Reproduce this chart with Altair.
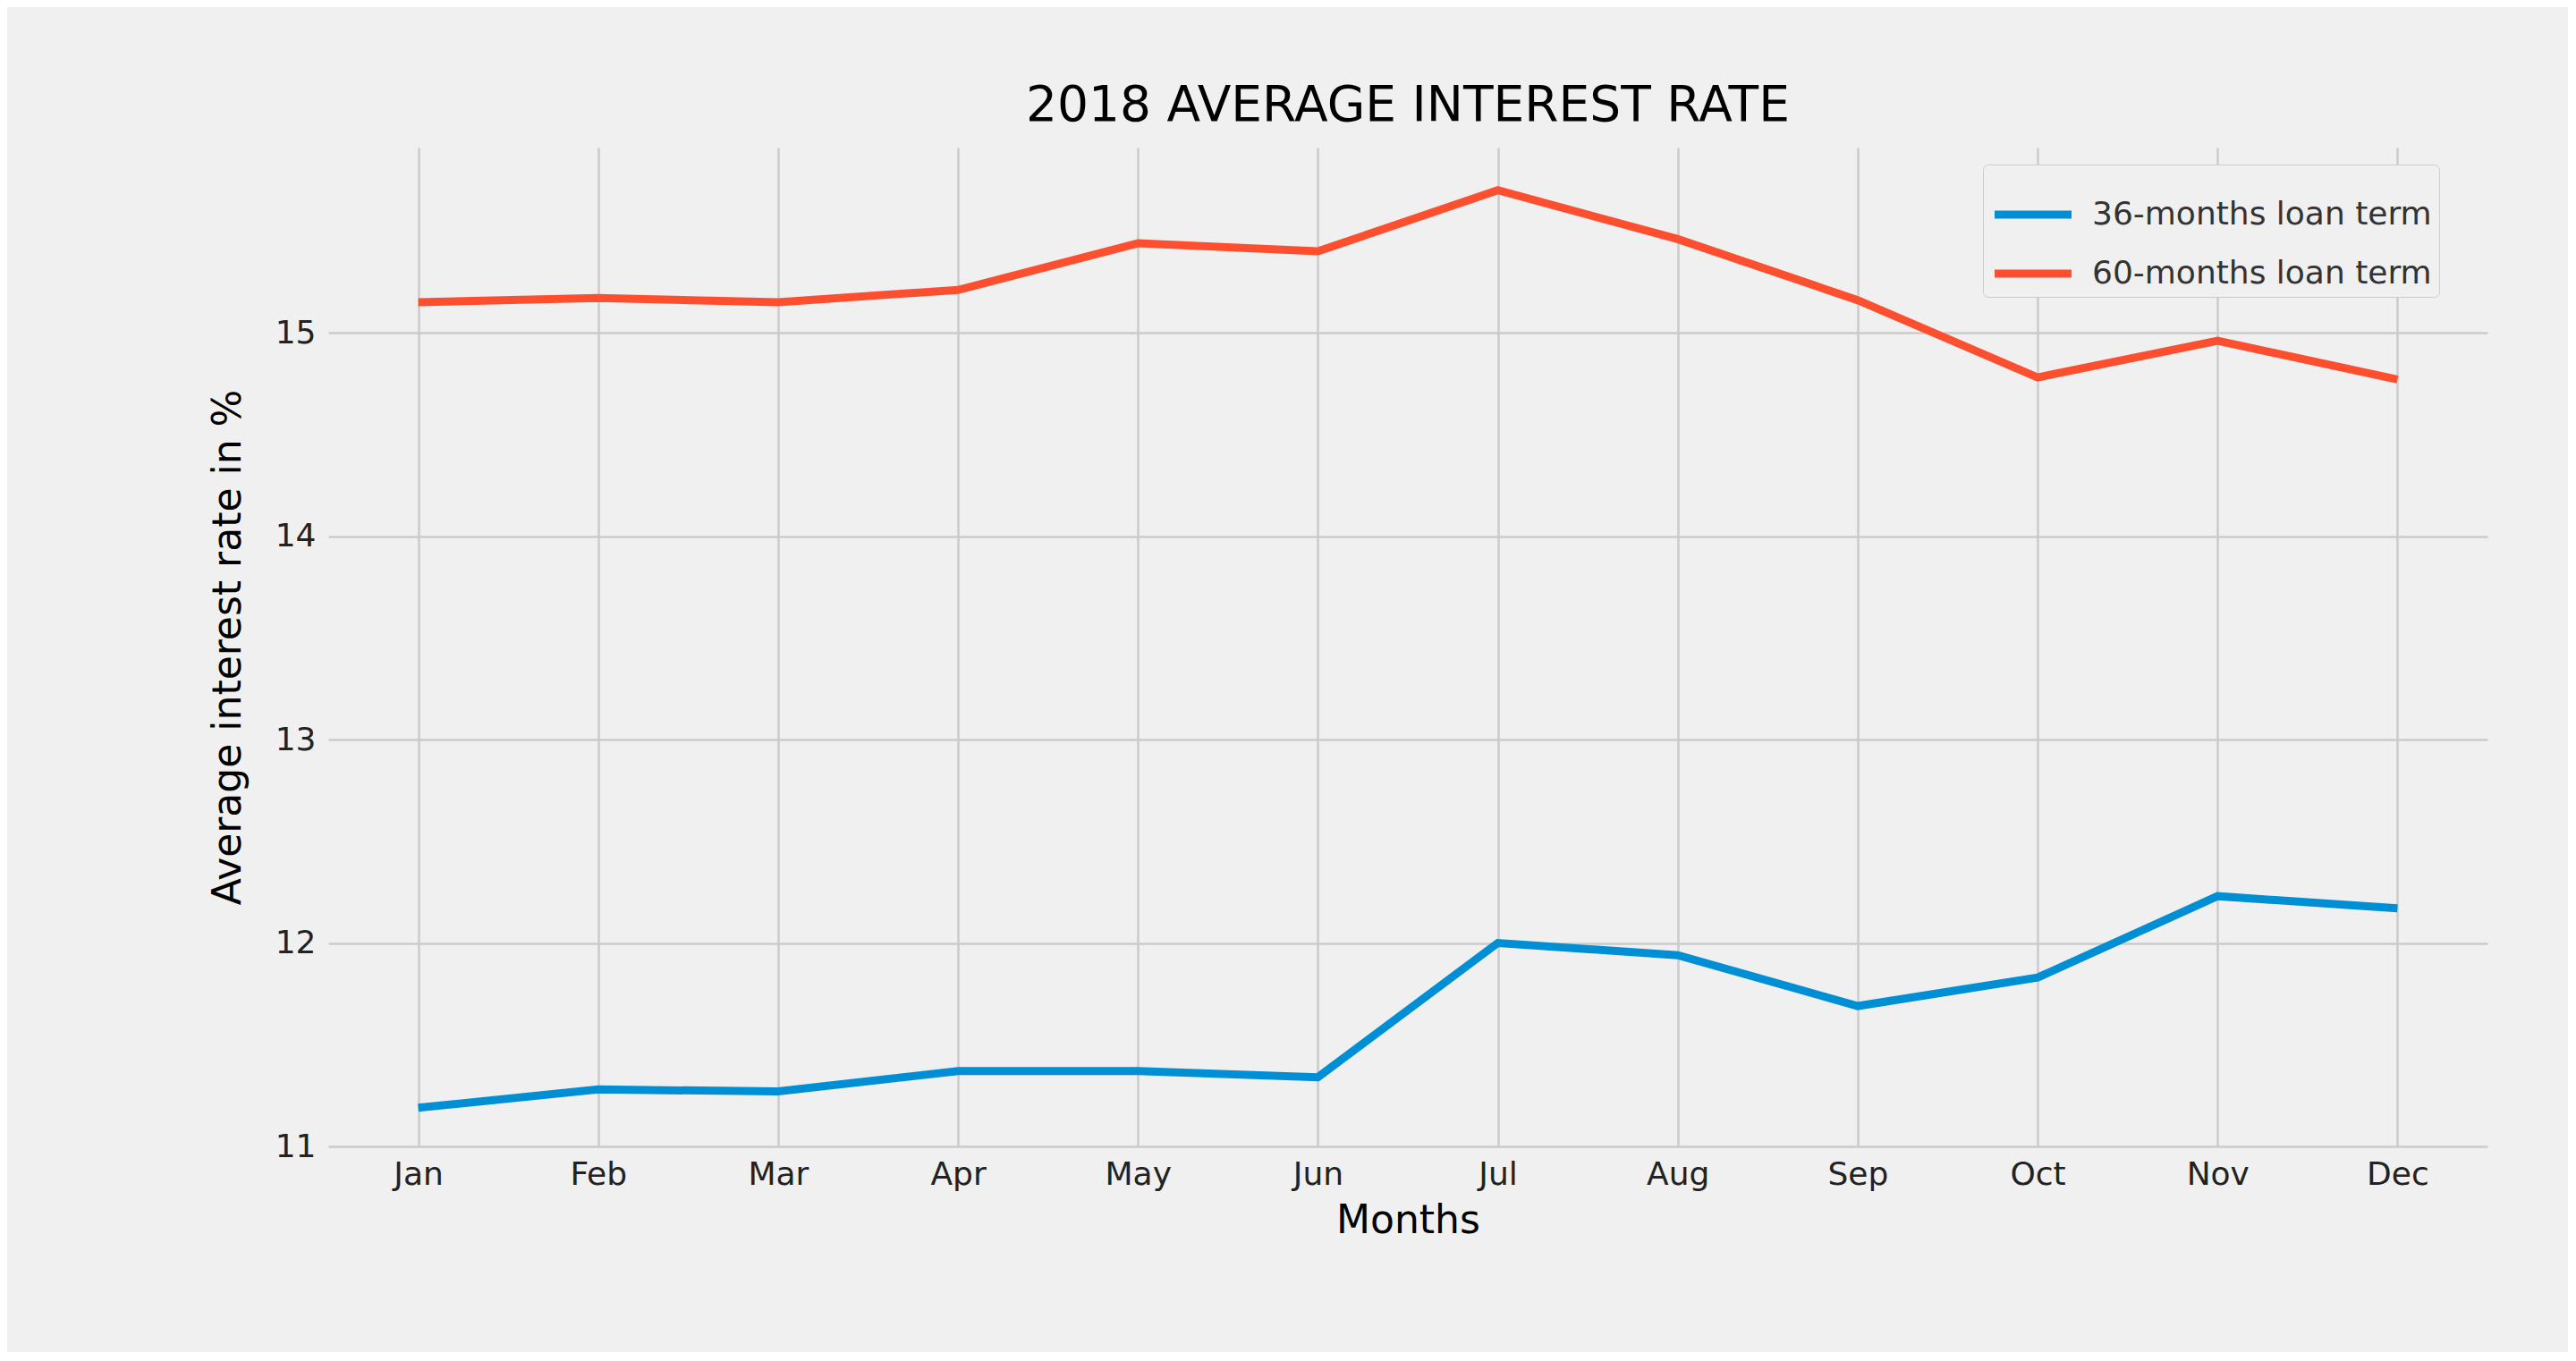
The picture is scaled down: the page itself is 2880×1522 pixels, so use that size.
import pandas as pd
import altair as alt

months = ["Jan", "Feb", "Mar", "Apr", "May", "Jun", "Jul", "Aug", "Sep", "Oct", "Nov", "Dec"]
rate_36 = [11.19, 11.28, 11.27, 11.37, 11.37, 11.34, 12.00, 11.94, 11.69, 11.83, 12.23, 12.17]
rate_60 = [15.15, 15.17, 15.15, 15.21, 15.44, 15.40, 15.70, 15.46, 15.16, 14.78, 14.96, 14.77]
series = ["36-months loan term", "60-months loan term"]

df = pd.concat([
    pd.DataFrame({"month": months, "rate": rate_36, "term": series[0]}),
    pd.DataFrame({"month": months, "rate": rate_60, "term": series[1]}),
])

font = "DejaVu Sans"

chart = (
    alt.Chart(df)
    .mark_line(strokeWidth=9, clip=True)
    .encode(
        x=alt.X("month:N", sort=months, title="Months",
                axis=alt.Axis(labelAngle=0, labelPadding=14, titlePadding=12)),
        y=alt.Y("rate:Q", title="Average interest rate in %",
                scale=alt.Scale(domain=[11, 15.91], nice=False, zero=False),
                axis=alt.Axis(values=[11, 12, 13, 14, 15], labelPadding=14, titlePadding=30)),
        color=alt.Color("term:N", title=None,
                        scale=alt.Scale(domain=series, range=["#008fd5", "#fc4f30"]),
                        legend=alt.Legend(orient="none", legendX=1850, legendY=19,
                                          symbolType="stroke", symbolSize=7400,
                                          symbolStrokeWidth=9, labelFontSize=36,
                                          labelFont=font, labelColor="#333333", labelLimit=0,
                                          labelOffset=18,
                                          fillColor="#f0f0f0", strokeColor="#cccccc",
                                          padding=8, rowPadding=-28, cornerRadius=6)),
    )
    .properties(
        width=2414,
        height=1117,
        title=alt.TitleParams("2018 AVERAGE INTEREST RATE", fontSize=55,
                              font=font, fontWeight="normal", color="black", offset=18),
        autosize=alt.AutoSizeParams(type="none"),
        padding={"left": 359, "top": 157, "right": 90, "bottom": 230},
        background="#f0f0f0",
    )
    .configure_view(stroke=None, fill="#f0f0f0")
    .configure_axis(
        grid=True, gridColor="#cbcbcb", gridWidth=2.5, domain=False, ticks=False,
        labelFont=font, labelFontSize=36, labelColor="#222222",
        titleFont=font, titleFontSize=44, titleFontWeight="normal", titleColor="black",
    )
)

chart.save("out.html", embed_options={"renderer": "svg", "actions": False})
